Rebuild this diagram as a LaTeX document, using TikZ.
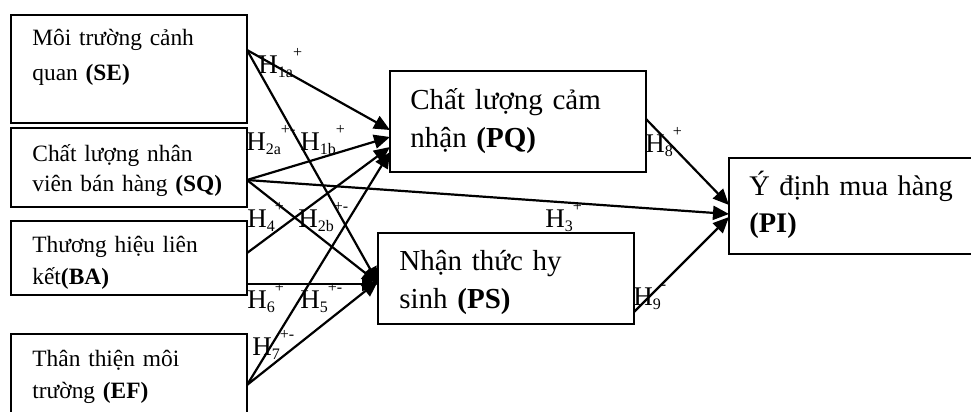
\documentclass[tikz,border=0pt]{standalone}
\usepackage{fontspec}
\setmainfont{Liberation Serif}
\usetikzlibrary{arrows.meta,calc}
\newcommand{\hyp}[2]{H\raisebox{-2pt}{\fontsize{8}{8}\selectfont #1}\raisebox{8pt}{\fontsize{8}{8}\selectfont #2}}
\begin{document}
\begin{tikzpicture}[x=0.5pt,y=-0.5pt,
  box/.style={draw,line width=0.8pt,fill=white,anchor=north west,inner sep=0pt,outer sep=0pt},
  smalltxt/.style={anchor=base west,inner sep=0pt,align=left,text width=115pt,font=\fontsize{11.7}{16}\selectfont},
  bigtxt/.style={anchor=base west,inner sep=0pt,align=left,text width=118pt,font=\fontsize{14.5}{19}\selectfont},
  lnk/.style={line width=1.1pt,-{Triangle[length=8pt,width=7pt]}},
  hyplbl/.style={anchor=base west,inner sep=0pt,font=\fontsize{13.5}{14}\selectfont}]
\path[use as bounding box,clip] (0,0) rectangle (971,412);

% boxes
\node[box,minimum width=118pt,minimum height=54pt] (SE) at (11,15) {};
\node[box,minimum width=118pt,minimum height=39.5pt] (SQ) at (11,128) {};
\node[box,minimum width=118pt,minimum height=37pt] (BA) at (11,221) {};
\node[box,minimum width=118pt,minimum height=45pt] (EF) at (11,334) {};
\node[box,minimum width=128pt,minimum height=50.5pt] (PQ) at (390,71) {};
\node[box,minimum width=128pt,minimum height=45.5pt] (PS) at (378,233) {};
\node[box,minimum width=130pt,minimum height=48pt] (PI) at (729,158) {};

% texts
\node[smalltxt,font=\fontsize{11.7}{17.5}\selectfont] (SEt) at (32,46) {Môi trường cảnh\\quan \textbf{(SE)}};
\node[smalltxt,font=\fontsize{11.7}{15.5}\selectfont] (SQt) at (32,161) {Chất lượng nhân\\viên bán hàng \textbf{(SQ)}};
\node[smalltxt] (BAt) at (32,252) {Thương hiệu liên\\kết\textbf{(BA)}};
\node[smalltxt] (EFt) at (32,366) {Thân thiện môi\\trường \textbf{(EF)}};
\node[bigtxt] (PQt) at (410,109) {Chất lượng cảm\\nhận \textbf{(PQ)}};
\node[bigtxt] (PSt) at (399,270) {Nhận thức hy\\sinh \textbf{(PS)}};
\node[bigtxt,font=\fontsize{14.2}{18.5}\selectfont] (PIt) at (749,195) {Ý định mua hàng\\\textbf{(PI)}};

% connectors
\draw[lnk] ($(SE.north east)+(0,35)$) -- ($(PQ.north west)+(0,59)$);
\draw[lnk] ($(SE.north east)+(0,35)$) -- ($(PS.north west)+(0,50)$);
\draw[lnk] ($(SQ.north east)+(0,52)$) -- ($(PQ.north west)+(0,66)$);
\draw[lnk] ($(SQ.north east)+(0,52)$) -- ($(PS.north west)+(0,50)$);
\draw[lnk] ($(SQ.north east)+(0,52)$) -- ($(PI.north west)+(0,56)$);
\draw[lnk] ($(BA.north east)+(0,32)$) -- ($(PQ.north west)+(0,76)$);
\draw[lnk] ($(BA.north east)+(0,63)$) -- ($(PS.north west)+(0,51)$);
\draw[lnk] ($(EF.north east)+(0,51)$) -- ($(PQ.north west)+(0,81)$);
\draw[lnk] ($(EF.north east)+(0,51)$) -- ($(PS.north west)+(0,48)$);
\draw[lnk] ($(PQ.north east)+(0,48)$) -- ($(PI.north west)+(0,47)$);
\draw[lnk] ($(PS.north east)+(0,79)$) -- ($(PI.north west)+(0,59)$);

% labels
\node[hyplbl] (h1a) at (258,73) {\hyp{1a}{+}};
\node[hyplbl] (h2a) at (246,150) {\hyp{2a}{+-}};
\node[hyplbl] (h1b) at (300,150) {\hyp{1b}{+}};
\node[hyplbl] (h4) at (247,227) {\hyp{4}{+}};
\node[hyplbl] (h2b) at (298,227) {\hyp{2b}{+-}};
\node[hyplbl] (h6) at (247,308) {\hyp{6}{+}};
\node[hyplbl] (h5) at (300,308) {\hyp{5}{+-}};
\node[hyplbl] (h7) at (252,355) {\hyp{7}{+-}};
\node[hyplbl] (h3) at (545,227) {\hyp{3}{+}};
\node[hyplbl] (h8) at (645,152) {\hyp{8}{+}};
\node[hyplbl] (h9) at (633,305) {\hyp{9}{-}};
\end{tikzpicture}
\end{document}
